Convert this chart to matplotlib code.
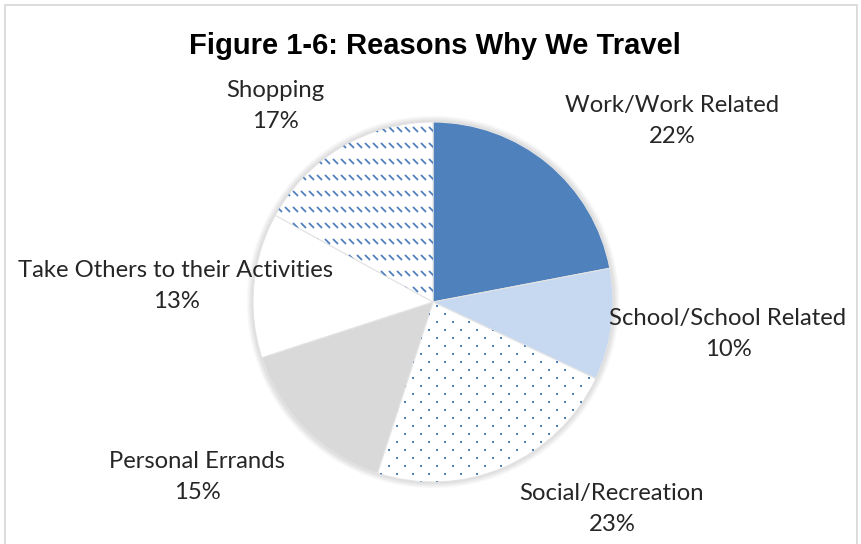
import numpy as np
import matplotlib
matplotlib.use("Agg")
import matplotlib.pyplot as plt
from matplotlib.collections import LineCollection
from matplotlib.patches import Circle, Rectangle

# Trip purposes, clockwise from 12 o'clock
categories = ["Work/Work Related", "School/School Related", "Social/Recreation",
              "Personal Errands", "Take Others to their Activities", "Shopping"]
shares = [22, 10, 23, 15, 13, 17]

title = "Figure 1-6: Reasons Why We Travel"

BLUE = "#4F81BD"
fills = [BLUE, "#C6D9F1", "white", "#D9D9D9", "white", "white"]

W, H = 861, 544
fig = plt.figure(figsize=(W / 100, H / 100), dpi=100)
ax = fig.add_axes([0, 0, 1, 1])

# pie geometry in pixel units (y measured upward)
cx, cy, R = 433, H - 302, 180

# soft outer shadow
for k in range(1, 8):
    ax.add_patch(Circle((cx, cy), R + k * 0.9, facecolor="#000000",
                        alpha=0.018, edgecolor="none", zorder=0))

wedges, _ = ax.pie(shares, colors=fills, startangle=90, counterclock=False,
                   center=(cx, cy), radius=R, frame=True,
                   wedgeprops=dict(edgecolor="#E4E4E4", linewidth=0.8))
for w in wedges:
    w.set_zorder(1)

# dotted fill for Social/Recreation
gx = np.arange(cx - R - 16, cx + R + 16, 16.0)
gy = np.arange(cy - R - 8, cy + R + 8, 8.0)
px, py = [], []
for i, yv in enumerate(gy):
    off = 8.0 if i % 2 else 0.0
    px.extend(gx + off)
    py.extend([yv] * len(gx))
dots = ax.scatter(px, py, s=3.2, marker="s", color=BLUE, linewidths=0, zorder=2)
dots.set_clip_path(wedges[2])

# dashed downward-diagonal fill for Shopping
segs = []
for yv in np.arange(cy - R - 16, cy + R + 16, 16.0):
    for xv in np.arange(cx - R - 16, cx + R + 16, 8.0):
        segs.append([(xv, yv + 3.0), (xv + 5.0, yv - 2.0)])
dash = LineCollection(segs, colors=BLUE, linewidths=1.3, zorder=2,
                      capstyle="butt")
ax.add_collection(dash)
dash.set_clip_path(wedges[5])

# data labels: name and percentage
label_xy = [(672, 121), (728, 334), (612, 509), (197, 477), (176, 286), (275, 106)]
for name, val, (lx, ly) in zip(categories, shares, label_xy):
    ax.text(lx, H - ly, f"{name}\n{val}%", ha="center", va="center",
            fontsize=17.2, family="Lato", color="#262626", linespacing=1.62,
            zorder=5)

ax.text(434.5, H - 46, title, ha="center", va="center", fontsize=21,
        fontweight="bold", family="Liberation Sans", color="black", zorder=5)

# chart-area border
ax.add_patch(Rectangle((4.5, -20), 852.5, H - 4.5 + 20, facecolor="none",
                       edgecolor="#D9D9D9", linewidth=1.3, zorder=6))

ax.set_xlim(0, W)
ax.set_ylim(0, H)
ax.set_aspect("auto")
ax.axis("off")

fig.savefig("out.png", dpi=100, facecolor="white")
